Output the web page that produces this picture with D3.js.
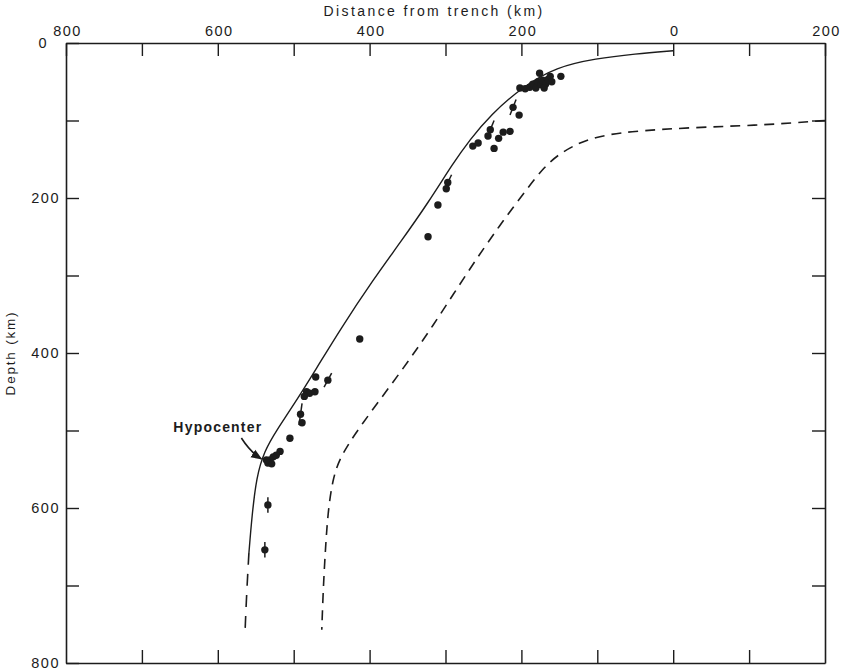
<!DOCTYPE html>
<html>
<head>
<meta charset="utf-8">
<script src="https://cdn.jsdelivr.net/npm/d3@7"></script>
<style>
  html, body { margin: 0; padding: 0; background: #fff; }
  svg { display: block; font-family: "Liberation Sans", Arial, Helvetica, sans-serif; }
</style>
</head>
<body>
<svg id="chart" width="844" height="671"></svg>
<script>
// Axis ticks (distance: positive landward of trench, negative seaward)
const distTickLabels = [800, 600, 400, 200, 0, -200];
const distMinorTicks = [700, 500, 300, 100, -100];
const depthTickLabels = [0, 200, 400, 600, 800];
const depthMinorTicks = [100, 300, 500, 700];

// Upper surface of the slab (solid), then its inferred continuation (dashed)
const slabTopDist  = [0, 50, 102, 154, 198, 241, 268, 290, 322, 360, 395, 439, 470, 500, 522, 539, 549, 555, 559];
const slabTopDepth = [10, 14, 20, 31, 56, 93, 125, 155, 205, 258, 305, 370, 420, 467, 499, 527, 560, 610, 658];
const slabExtDist  = [559, 562, 564];
const slabExtDepth = [658, 710, 757];

// Lower surface of the slab (dashed)
const slabBotDist  = [-200, -158, -114, -26, 61, 106, 128, 150, 170, 190, 228, 272, 317, 360, 413, 439, 449, 455, 458, 461, 463];
const slabBotDepth = [100, 103, 106, 109, 114, 122, 131, 143, 160, 185, 234, 297, 366, 426, 495, 534, 564, 607, 650, 702, 757];

// Earthquake hypocenters with error half-lengths (distance, depth), km
const quakeDist  = [202, 195, 189, 185, 181, 178, 174, 172, 168, 165, 162, 176, 170, 160, 148,
                    211, 203, 241, 244, 224, 215, 230, 236, 264, 257, 297, 299, 310, 323,
                    413, 471, 455, 483, 479, 472, 486, 491, 489, 505, 518, 523, 527, 531, 534, 529,
                    536, 534, 538];
const quakeDepth = [58, 59, 57, 53, 58, 50, 54, 48, 53, 47, 43, 39, 58, 50, 43,
                    83, 93, 112, 120, 115, 114, 123, 136, 133, 129, 180, 188, 209, 250,
                    382, 431, 435, 450, 452, 450, 456, 479, 490, 510, 527, 532, 534, 538, 542, 543,
                    538, 596, 654];
const quakeErrDist  = [0, 0, 0, 0, 0, 0, 0, 0, 0, 0, 0, 0, 0, 0, 0,
                       4, 0, 5, 0, 0, 0, 0, 0, 0, 0, 5, 0, 0, 0,
                       0, 0, 5, 0, 0, 0, 0, 2, 0, 0, 0, 0, 0, 0, 0, 0,
                       0, 0, 0];
const quakeErrDepth = [0, 0, 0, 0, 0, 0, 0, 0, 0, 0, 0, 0, 0, 0, 0,
                       10, 0, 12, 0, 0, 0, 0, 0, 0, 0, 10, 0, 0, 0,
                       0, 0, 9, 0, 0, 0, 0, 14, 0, 0, 0, 0, 0, 0, 0, 0,
                       0, 10, 10];
const hypocenterIndex = 45;

const svg = d3.select("#chart");
const margin = { left: 66, right: 19, top: 43, bottom: 8 };
const W = 844, H = 671;
const x = d3.scaleLinear().domain([800, -200]).range([margin.left, W - margin.right]);
const y = d3.scaleLinear().domain([0, 800]).range([margin.top, H - margin.bottom]);
const ink = "#1c1c1c";
const tickLen = 13;
const fmt = d => Math.abs(d);

// Frame with inward ticks on all four sides
function styleAxis(g) {
  g.select(".domain").attr("stroke", ink).attr("stroke-width", 1.6);
  g.selectAll(".tick line").attr("stroke", ink).attr("stroke-width", 1.4);
  g.selectAll(".tick text").attr("fill", ink).attr("font-size", 14.5).attr("letter-spacing", 1.5);
}
const allDist = distTickLabels.concat(distMinorTicks);
const allDepth = depthTickLabels.concat(depthMinorTicks);

const topAxis = svg.append("g").attr("transform", `translate(0,${y(0)})`)
  .call(d3.axisTop(x).tickValues(allDist).tickSizeInner(-tickLen).tickSizeOuter(0)
    .tickFormat(d => distTickLabels.includes(d) ? fmt(d) : "").tickPadding(7))
  .call(styleAxis);
topAxis.selectAll(".tick text").attr("dx", 1);
svg.append("g").attr("transform", `translate(0,${y(800)})`)
  .call(d3.axisBottom(x).tickValues(allDist.filter(d => d !== 800 && d !== -200))
    .tickSizeInner(-tickLen).tickSizeOuter(0).tickFormat(""))
  .call(styleAxis);
const leftAxis = svg.append("g").attr("transform", `translate(${x(800)},0)`)
  .call(d3.axisLeft(y).tickValues(allDepth).tickSizeInner(-tickLen).tickSizeOuter(0)
    .tickFormat(d => depthTickLabels.includes(d) ? d : "").tickPadding(6))
  .call(styleAxis);
// the corner "0" sits clear of the top axis labels
leftAxis.selectAll(".tick text").filter(d => d === 0).attr("dx", -12);
svg.append("g").attr("transform", `translate(${x(-200)},0)`)
  .call(d3.axisRight(y).tickValues(allDepth.filter(d => d !== 0 && d !== 800))
    .tickSizeInner(-tickLen).tickSizeOuter(0).tickFormat(""))
  .call(styleAxis);

// Axis titles
svg.append("text")
  .attr("x", x(315)).attr("y", 16)
  .attr("text-anchor", "middle").attr("font-size", 14).attr("letter-spacing", 2.4)
  .attr("fill", ink).text("Distance from trench (km)");
svg.append("text")
  .attr("transform", `translate(15,${y(400)}) rotate(-90)`)
  .attr("text-anchor", "middle").attr("font-size", 13.5).attr("letter-spacing", 1.8)
  .attr("fill", ink).text("Depth (km)");

// Slab outlines
const line = d3.line().x(d => x(d[0])).y(d => y(d[1])).curve(d3.curveBasis);
const topPts = slabTopDist.map((d, i) => [d, slabTopDepth[i]]);
const extPts = slabExtDist.map((d, i) => [d, slabExtDepth[i]]);
const botPts = slabBotDist.map((d, i) => [d, slabBotDepth[i]]);

svg.append("path").attr("d", line(topPts)).attr("fill", "none")
  .attr("stroke", ink).attr("stroke-width", 1.4);
svg.append("path").attr("d", line(extPts)).attr("fill", "none")
  .attr("stroke", ink).attr("stroke-width", 1.6).attr("stroke-dasharray", "12,9");
svg.append("path").attr("d", line(botPts)).attr("fill", "none")
  .attr("stroke", ink).attr("stroke-width", 1.6).attr("stroke-dasharray", "10,7");

// Earthquakes
const quakes = quakeDist.map((d, i) => ({
  dist: d, depth: quakeDepth[i], ed: quakeErrDist[i], ez: quakeErrDepth[i]
}));
const qg = svg.append("g");
qg.selectAll("line.err").data(quakes.filter(q => q.ez > 0 || q.ed > 0)).join("line")
  .attr("class", "err")
  .attr("x1", q => x(q.dist - q.ed)).attr("y1", q => y(q.depth - q.ez))
  .attr("x2", q => x(q.dist + q.ed)).attr("y2", q => y(q.depth + q.ez))
  .attr("stroke", ink).attr("stroke-width", 1.5);
qg.selectAll("circle").data(quakes).join("circle")
  .attr("cx", q => x(q.dist)).attr("cy", q => y(q.depth)).attr("r", 3.7)
  .attr("fill", ink);

// Hypocenter annotation
const hq = quakes[hypocenterIndex];
const hx = x(hq.dist), hy = y(hq.depth);
svg.append("defs").append("marker")
  .attr("id", "arrow").attr("viewBox", "0 0 10 10").attr("refX", 9).attr("refY", 5)
  .attr("markerWidth", 7).attr("markerHeight", 7).attr("orient", "auto")
  .append("path").attr("d", "M0,1 L10,5 L0,9 Z").attr("fill", ink);
svg.append("path")
  .attr("d", `M${hx - 25},${hy - 22} Q${hx - 16},${hy - 8} ${hx - 5},${hy - 1}`)
  .attr("fill", "none").attr("stroke", ink).attr("stroke-width", 1.6)
  .attr("marker-end", "url(#arrow)");
svg.append("text")
  .attr("x", hx - 4).attr("y", hy - 28)
  .attr("text-anchor", "end").attr("font-size", 14).attr("font-weight", "bold")
  .attr("letter-spacing", 1.2).attr("fill", ink).text("Hypocenter");
</script>
</body>
</html>
